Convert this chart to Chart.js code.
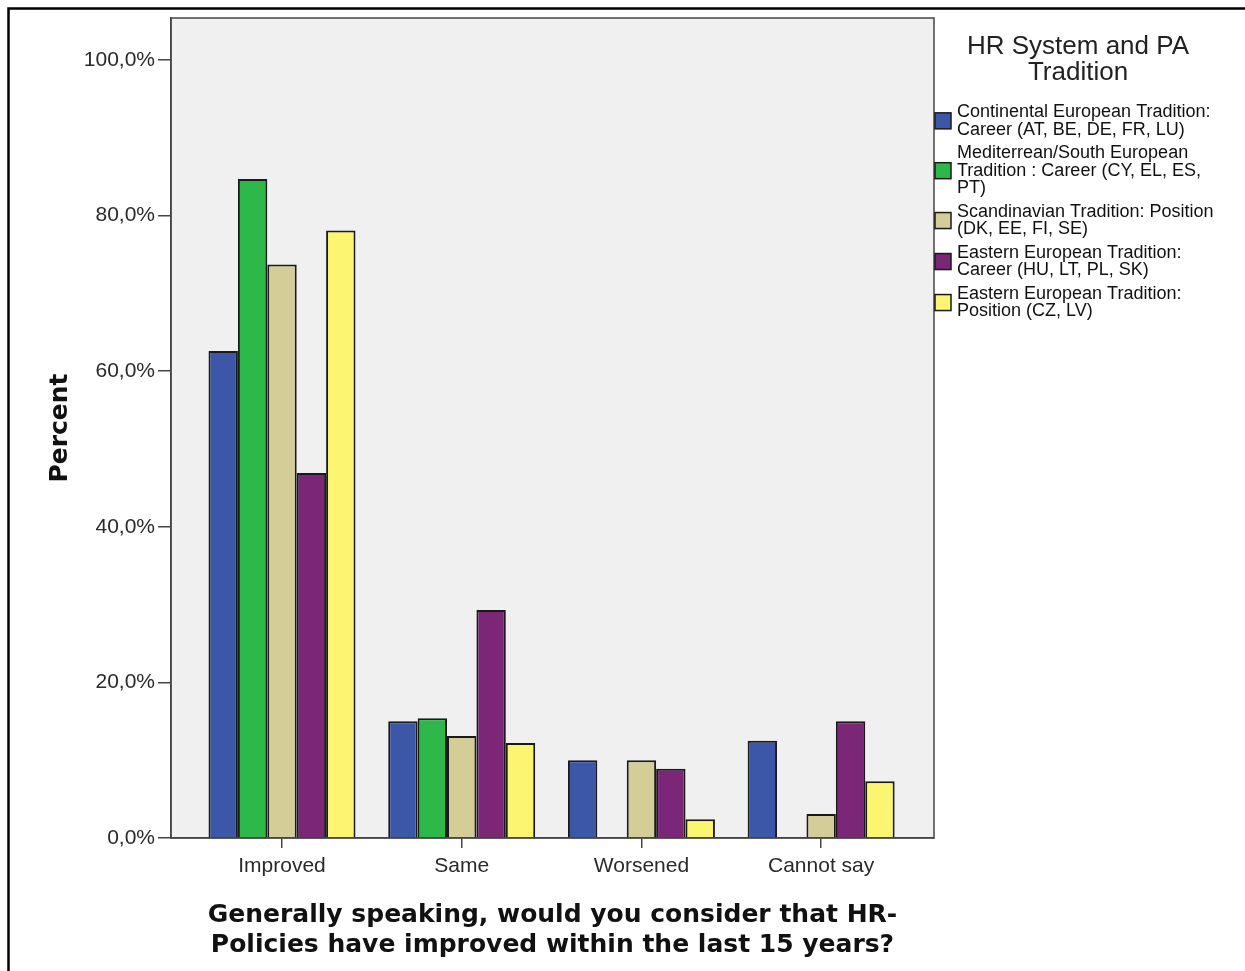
<!DOCTYPE html>
<html>
<head>
<meta charset="utf-8">
<script src="https://cdn.jsdelivr.net/npm/chart.js@4/dist/chart.umd.min.js"></script>
<style>
	body { margin: 0; background: #ffffff; }
	#wrap { width: 1245px; height: 971px; }
</style>
</head>
<body>
<div id="wrap"><canvas id="chart" width="1245" height="971"></canvas></div>
<script>
// categories on the x axis
const categories = ['Improved', 'Same', 'Worsened', 'Cannot say'];

// percent per tradition
const continentalCareer    = [62.6, 15.0, 10.0, 12.5];
const mediterraneanCareer  = [84.7, 15.4, 0, 0];
const scandinavianPosition = [73.7, 13.1, 10.0, 3.1];
const easternCareer        = [46.9, 29.3, 8.9, 15.0];
const easternPosition      = [78.1, 12.2, 2.4, 7.3];

const yTickLabels = ['0,0%', '20,0%', '40,0%', '60,0%', '80,0%', '100,0%'];

const legendTitle = ['HR System and PA', 'Tradition'];
const seriesLabels = [
	['Continental European Tradition:', 'Career (AT, BE, DE, FR, LU)'],
	['Mediterrean/South European', 'Tradition : Career (CY, EL, ES,', 'PT)'],
	['Scandinavian Tradition: Position', '(DK, EE, FI, SE)'],
	['Eastern European Tradition:', 'Career (HU, LT, PL, SK)'],
	['Eastern European Tradition:', 'Position (CZ, LV)']
];
const seriesValues = [continentalCareer, mediterraneanCareer, scandinavianPosition, easternCareer, easternPosition];
const seriesColors = ['#3c56a8', '#2fb84a', '#d4cd97', '#7b2677', '#fbf56f'];

const frameColor = '#444444';

const datasets = seriesValues.map(function(vals, i) {
	return {
		label: seriesLabels[i].join(' '),
		data: vals,
		backgroundColor: seriesColors[i],
		borderColor: '#1a1a1a',
		borderWidth: 2,
		borderSkipped: 'start',
		categoryPercentage: 0.818,
		barPercentage: 1.0
	};
});

// plot background, frame, outer border and legend
const decorPlugin = {
	id: 'decor',
	beforeDraw: function(chart) {
		const ctx = chart.ctx;
		const a = chart.chartArea;
		ctx.save();
		ctx.fillStyle = '#ffffff';
		ctx.fillRect(0, 0, chart.width, chart.height);
		ctx.fillStyle = '#f0f0f0';
		ctx.fillRect(a.left, a.top, a.right - a.left, a.bottom - a.top);
		ctx.restore();
	},
	afterDraw: function(chart) {
		const ctx = chart.ctx;
		const a = chart.chartArea;
		ctx.save();
		// plot frame
		ctx.strokeStyle = frameColor;
		ctx.lineWidth = 1.5;
		ctx.strokeRect(a.left, a.top, a.right - a.left, a.bottom - a.top);

		// outer border (top and left)
		ctx.strokeStyle = '#000000';
		ctx.lineWidth = 2.5;
		ctx.beginPath();
		ctx.moveTo(8.5, chart.height);
		ctx.lineTo(8.5, 8.5);
		ctx.lineTo(chart.width, 8.5);
		ctx.stroke();

		// legend title
		ctx.fillStyle = '#222222';
		ctx.font = '26px "Liberation Sans", Arial, sans-serif';
		ctx.textAlign = 'center';
		ctx.textBaseline = 'middle';
		ctx.fillText(legendTitle[0], 1078, 47);
		ctx.fillText(legendTitle[1], 1078, 73);

		// legend items
		const lineH = 17.7;
		const gap = 5.6;
		let y = 112;
		ctx.font = '18px "Liberation Sans", Arial, sans-serif';
		ctx.textAlign = 'left';
		for(let i = 0; i < seriesLabels.length; ++i) {
			const lines = seriesLabels[i];
			const mid = y + (lines.length - 1) * lineH / 2;
			ctx.fillStyle = seriesColors[i];
			ctx.fillRect(935, mid - 8, 16, 16);
			ctx.strokeStyle = '#1a1a1a';
			ctx.lineWidth = 1.5;
			ctx.strokeRect(935, mid - 8, 16, 16);
			ctx.fillStyle = '#111111';
			for(let k = 0; k < lines.length; ++k) {
				ctx.fillText(lines[k], 957, y + k * lineH);
			}
			y += lines.length * lineH + gap;
		}
		ctx.restore();
	}
};

const chart = new Chart('chart', {
	type: 'bar',
	data: {
		labels: categories.map(function(c, i) { return i; }),
		datasets: datasets
	},
	options: {
		responsive: false,
		animation: false,
		layout: {
			padding: { top: 18, right: 311, bottom: 0, left: 0 }
		},
		plugins: {
			legend: { display: false },
			tooltip: { enabled: false }
		},
		scales: {
			x: {
				type: 'linear',
				offset: false,
				min: -0.6177,
				max: 3.628,
				afterFit: function(scale) { scale.height = 133; },
				grid: {
					offset: false,
					drawOnChartArea: false,
					drawTicks: true,
					tickLength: 10,
					color: frameColor,
					lineWidth: 1.5
				},
				border: { display: true, color: frameColor, width: 1.5 },
				ticks: {
					stepSize: 1,
					includeBounds: false,
					autoSkip: false,
					maxRotation: 0,
					padding: 6,
					color: '#2a2a2a',
					font: { family: '"Liberation Sans", Arial, sans-serif', size: 21 },
					callback: function(value) { return categories[value]; }
				},
				title: {
					display: true,
					text: ['Generally speaking, would you consider that HR-', 'Policies have improved within the last 15 years?'],
					color: '#111111',
					font: { family: '"DejaVu Sans", sans-serif', size: 25, weight: 'bold', lineHeight: 1.2 },
					padding: { top: 0, bottom: 11 }
				}
			},
			y: {
				min: 0,
				max: 105.4,
				afterFit: function(scale) { scale.width = 171; },
				grid: {
					drawOnChartArea: false,
					drawTicks: true,
					tickLength: 13,
					color: frameColor,
					lineWidth: 1.5
				},
				border: { display: true, color: frameColor, width: 1.5 },
				ticks: {
					stepSize: 20,
					includeBounds: false,
					padding: 3,
					color: '#2a2a2a',
					font: { family: '"Liberation Sans", Arial, sans-serif', size: 21 },
					callback: function(value) { return yTickLabels[Math.round(value / 20)]; }
				},
				title: {
					display: true,
					text: 'Percent',
					color: '#111111',
					font: { family: '"DejaVu Sans", sans-serif', size: 25, weight: 'bold', lineHeight: 1.2 },
					padding: { top: 45, bottom: 0 }
				}
			}
		}
	},
	plugins: [decorPlugin]
});
</script>
</body>
</html>
